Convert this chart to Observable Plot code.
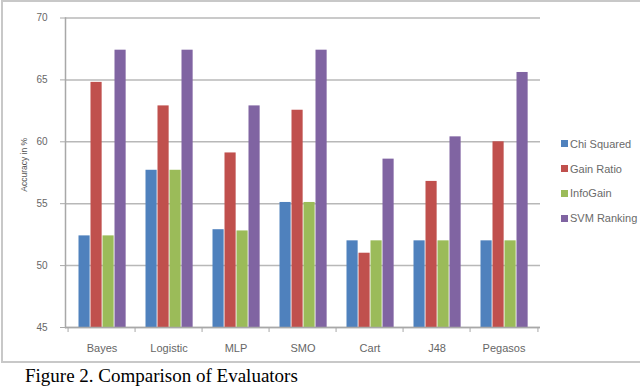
<!DOCTYPE html>
<html><head><meta charset="utf-8">
<script src="https://cdn.jsdelivr.net/npm/d3@7"></script>
<script src="https://cdn.jsdelivr.net/npm/@observablehq/plot@0.6"></script>
<style>
body{margin:0;background:#fff;overflow:hidden;width:640px;height:388px;position:relative;font-family:"Liberation Sans",Arial,sans-serif}
#frame{position:absolute;left:1px;top:0;width:700px;height:359px;border:2px solid #c8c8c8}
#chart{position:absolute;left:0;top:0}
#legend{position:absolute;left:561px;top:131.6px;font-size:11px;color:#6a6a6a}
.row{height:24.7px;display:flex;align-items:center;white-space:nowrap}
.sw{width:7px;height:7px;margin-right:2px;flex:none}
#caption{position:absolute;left:25px;top:363.6px;font-family:"Liberation Serif","Times New Roman",serif;font-size:19px;line-height:24px;color:#000;white-space:nowrap}
</style></head><body>
<div id="frame"></div>
<div id="chart"></div>
<div id="legend"></div>
<div id="caption">Figure 2. Comparison of Evaluators</div>
<script>
const categories = ["Bayes","Logistic","MLP","SMO","Cart","J48","Pegasos"];
const series = ["Chi Squared","Gain Ratio","InfoGain","SVM Ranking"];
const chiSquared = [52.4,57.7,52.9,55.1,52.0,52.0,52.0];
const gainRatio  = [64.8,62.9,59.1,62.55,51.0,56.8,60.0];
const infoGain   = [52.4,57.7,52.8,55.1,52.0,52.0,52.0];
const svmRanking = [67.4,67.4,62.9,67.4,58.6,60.4,65.6];
const colors = ["#4F81BD","#C0504D","#9BBB59","#8064A2"];
const yTicks = [45,50,55,60,65,70];
const yLabel = "Accuracy in %";

const seriesValues = [chiSquared, gainRatio, infoGain, svmRanking];

const W = 640, H = 364;
const mL = 65, mR = 100, mT = 17.5, mB = 37;
const bw = (W - mL - mR) / categories.length;
const barW = 12, groupPad = 10.5;

const barMarks = series.map((s, j) => {
  const rows = categories.map((c, i) => ({category: c, value: seriesValues[j][i]}));
  return Plot.barY(rows, {
    x: "category", y1: 45, y2: "value", fill: colors[j],
    insetLeft: groupPad + barW * j,
    insetRight: bw - groupPad - barW * (j + 1)
  });
});

const plot = Plot.plot({
  width: W, height: H,
  marginLeft: mL, marginRight: mR, marginTop: mT, marginBottom: mB,
  style: {background: "transparent", fontFamily: "Liberation Sans, Arial, sans-serif"},
  x: {type: "band", domain: categories, padding: 0},
  y: {domain: [45, 70]},
  marks: [
    Plot.gridY(yTicks, {stroke: "#b8b8b8", strokeOpacity: 1, strokeWidth: 1.5}),
    ...barMarks,
    Plot.frame({anchor: "left", stroke: "#a8a8a8", strokeWidth: 1.5}),
    Plot.ruleY([45], {stroke: "#a8a8a8", strokeWidth: 1.5}),
    Plot.axisY(yTicks, {tickSize: 5, tickPadding: 13, fontSize: 10, fill: "#666", stroke: "#a8a8a8", label: null}),
    Plot.axisX(categories, {tickSize: 5, text: null, dx: -bw / 2, stroke: "#a8a8a8", label: null}),
    Plot.axisX([categories[categories.length - 1]], {tickSize: 5, text: null, dx: bw / 2, stroke: "#a8a8a8", label: null}),
    Plot.axisX(categories, {tickSize: 0, tickPadding: 16.5, fontSize: 11, fill: "#666", label: null}),
    Plot.text([yLabel], {frameAnchor: "left", rotate: -90, dx: -41, dy: 19, fontSize: 8.5, fill: "#555"})
  ]
});
document.getElementById("chart").appendChild(plot);

const legend = document.getElementById("legend");
series.forEach((s, j) => {
  const row = document.createElement("div");
  row.className = "row";
  const sw = document.createElement("span");
  sw.className = "sw";
  sw.style.background = colors[j];
  const t = document.createElement("span");
  t.textContent = s;
  row.appendChild(sw); row.appendChild(t);
  legend.appendChild(row);
});
</script>
</body></html>
